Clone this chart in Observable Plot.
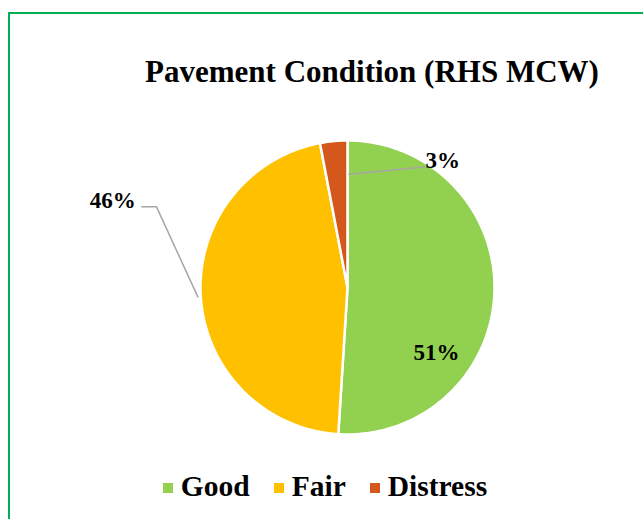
<!DOCTYPE html>
<html>
<head>
<meta charset="utf-8">
<script src="https://cdn.jsdelivr.net/npm/d3@7"></script>
<script src="https://cdn.jsdelivr.net/npm/@observablehq/plot@0.6"></script>
<style>
  html, body { margin: 0; padding: 0; background: #fff; }
  body { width: 643px; height: 519px; position: relative; overflow: hidden; font-family: "Liberation Serif", "Times New Roman", serif; }
  #frame { position: absolute; left: 8px; top: 12px; width: 700px; height: 600px; border-top: 2px solid #00B050; border-left: 2px solid #00B050; }
  #title { position: absolute; left: 0; width: 744px; top: 54px; text-align: center; font-weight: bold; font-size: 31px; line-height: 36px; color: #000; white-space: nowrap; }
  #chart { position: absolute; left: 0; top: 110px; }
  #legend { position: absolute; left: 0; width: 650px; top: 469px; display: flex; justify-content: center; align-items: center; font-weight: bold; font-size: 29.5px; line-height: 34px; color: #000; }
  .item { display: flex; align-items: center; margin: 0 12px; }
  .sw { width: 10px; height: 10px; margin-right: 8px; margin-top: 4px; }
</style>
</head>
<body>
<div id="frame"></div>
<div id="title">Pavement Condition (RHS MCW)</div>
<div id="chart"></div>
<div id="legend"></div>
<script>
// ---- data ----
const categories = ["Good", "Fair", "Distress"];
const values = [51, 46, 3];
const labels = ["51%", "46%", "3%"];
const colors = ["#92D050", "#FFC000", "#D4581B"];

// ---- layout ----
const W = 643, H = 350, R = 147, CX = 347, CY = 177;

const arcs = d3.pie().sort(null).value(d => d)(values);
const poly = [];
arcs.forEach((a, i) => {
  poly.push({cat: categories[i], x: 0, y: 0});
  const n = Math.max(4, Math.ceil((a.endAngle - a.startAngle) / (Math.PI / 180)));
  for (let k = 0; k <= n; k++) {
    const t = a.startAngle + (a.endAngle - a.startAngle) * k / n;
    poly.push({cat: categories[i], x: Math.sin(t), y: Math.cos(t)});
  }
});

function mid(i) { return (arcs[i].startAngle + arcs[i].endAngle) / 2; }
function pt(angle, r) { return [Math.sin(angle) * r, Math.cos(angle) * r]; }

// label placements (Excel-style): Good inside, Fair and Distress outside with leaders
const gAng = mid(0) + 0.6;
const [gx, gy] = pt(gAng, 0.75);
const fairEdge = pt(mid(1), 1.02);
const fairLeader = [
  {x: fairEdge[0], y: fairEdge[1]},
  {x: -1.30, y: 0.55},
  {x: -1.40, y: 0.55}
];
const distLeader = [
  {x: 0.01, y: 0.77},
  {x: 0.52, y: 0.82}
];
const fontOpts = {fontSize: 23, fontWeight: "bold", fill: "#000", fontFamily: "Liberation Serif, serif"};

const chart = Plot.plot({
  width: W, height: H,
  margin: 0,
  x: {domain: [-CX / R, (W - CX) / R], range: [0, W], axis: null},
  y: {domain: [-(H - CY) / R, CY / R], range: [H, 0], axis: null},
  color: {domain: categories, range: colors},
  style: {background: "transparent"},
  marks: [
    Plot.line(poly, {x: "x", y: "y", z: "cat", fill: "cat", stroke: "white", strokeWidth: 2.5, curve: "linear-closed"}),
    Plot.line(fairLeader, {x: "x", y: "y", stroke: "#A6A6A6", strokeWidth: 1.5}),
    Plot.line(distLeader, {x: "x", y: "y", stroke: "#A6A6A6", strokeWidth: 1.5}),
    Plot.text([labels[0]], {x: [gx], y: [gy], text: d => d, textAnchor: "middle", ...fontOpts}),
    Plot.text([labels[1]], {x: [-1.44], y: [0.59], text: d => d, textAnchor: "end", ...fontOpts}),
    Plot.text([labels[2]], {x: [0.53], y: [0.865], text: d => d, textAnchor: "start", ...fontOpts})
  ]
});
document.getElementById("chart").appendChild(chart);

const legend = document.getElementById("legend");
categories.forEach((c, i) => {
  const item = document.createElement("div");
  item.className = "item";
  const sw = document.createElement("span");
  sw.className = "sw";
  sw.style.background = colors[i];
  const tx = document.createElement("span");
  tx.textContent = c;
  item.appendChild(sw);
  item.appendChild(tx);
  legend.appendChild(item);
});
</script>
</body>
</html>
